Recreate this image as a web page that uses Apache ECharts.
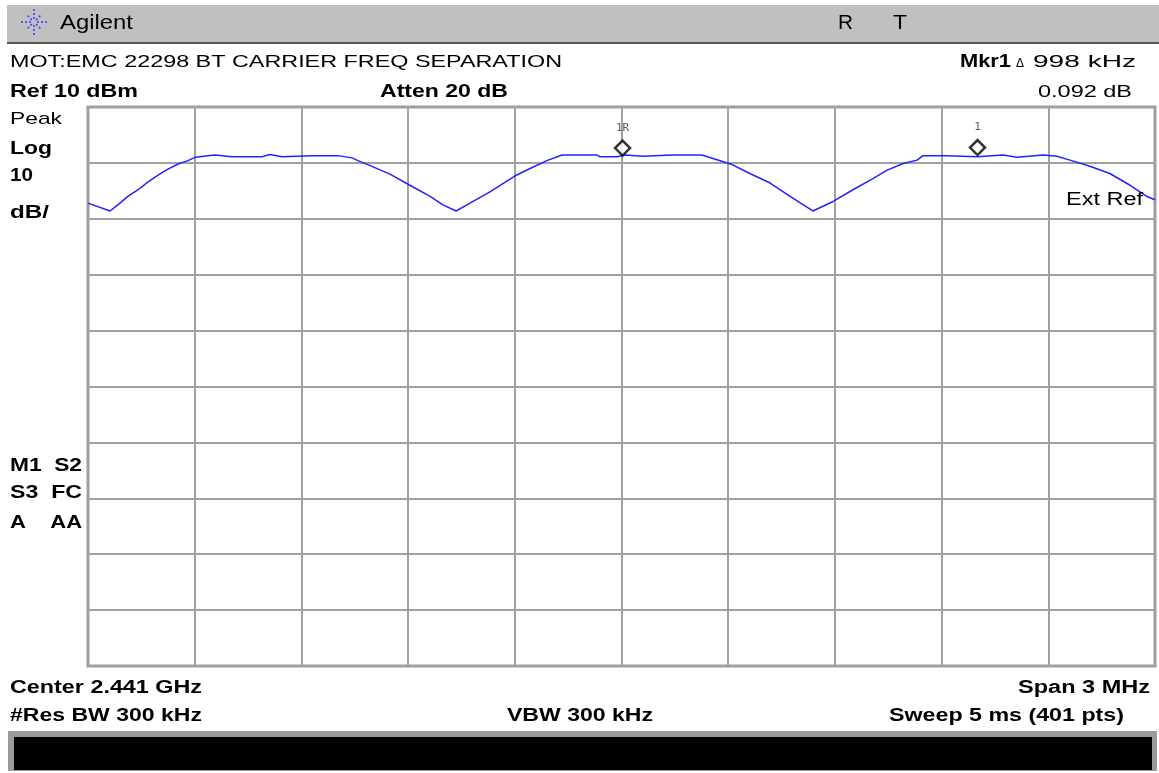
<!DOCTYPE html>
<html>
<head>
<meta charset="utf-8">
<script src="https://cdn.jsdelivr.net/npm/echarts@6/dist/echarts.min.js"></script>
<style>
html,body{margin:0;padding:0;background:#fff;}
#c{width:1159px;height:773px;}
</style>
</head>
<body>
<div id="c"></div>
<script>
// Frequency offset from centre (kHz) and level (dBm) of the trace
var freqOffsetKHz = [-1500,-1438,-1416,-1388,-1359,-1331,-1303,-1275,-1247,-1219,-1199,-1163,-1143,-1095,-1011,-988,-955,-870,-797,-758,-741,-710,-651,-595,-538,-502,-465,-426,-370,-299,-257,-210,-167,-69,-60,-13,10,60,142,226,257,311,361,418,474,538,595,651,707,747,792,831,848,915,1000,1073,1112,1185,1224,1261,1317,1373,1430,1477,1500];
var levelDBm = [-7.2,-8.6,-7.5,-6.0,-4.8,-3.4,-2.2,-1.1,-0.2,0.4,1.0,1.3,1.4,1.1,1.1,1.5,1.1,1.3,1.3,0.9,0.4,-0.4,-2.0,-4.0,-6.0,-7.5,-8.6,-7.2,-5.2,-2.3,-1.0,0.4,1.4,1.4,1.1,1.1,1.4,1.2,1.4,1.4,0.8,-0.3,-1.9,-3.6,-6.0,-8.6,-6.9,-4.8,-2.8,-1.3,-0.1,0.5,1.3,1.3,1.1,1.4,1.0,1.4,1.2,0.5,-0.6,-1.9,-4.0,-6.0,-6.6];
var markerNames = ['1R','1'];
var markerFreqKHz = [3,1001];
var markerLevelDBm = [1.4,1.5];
var xTicks = {min:-1500, max:1500, interval:300};
var yTicks = {min:-90, max:10, interval:10};

var trace = freqOffsetKHz.map(function(f,i){return [f, levelDBm[i]];});
var markers = markerFreqKHz.map(function(f,i){return {value:[f, markerLevelDBm[i]], name:markerNames[i]};});

var FONT = '"Liberation Sans", Arial, sans-serif';
var mctx = document.createElement('canvas').getContext('2d');
function txt(x,y,s,size,bold,align,targetW){
  var font = (bold?'bold ':'')+size+'px '+FONT;
  var sx = 1;
  if (targetW) { mctx.font = font; sx = targetW / mctx.measureText(s).width; }
  return {type:'text', x:x, y:y, scaleX:sx, style:{text:s, font:font, fill:'#000', textAlign:align||'left', textVerticalAlign:'middle'}, z:10};
}
// Agilent starburst logo
var logo = [];
var cx=34, cy=22;
for (var k=0;k<8;k++){
  var a = k*Math.PI/4;
  var r = (k%2===0)?13:10;
  logo.push({type:'line', shape:{x1:cx+3*Math.cos(a), y1:cy+3*Math.sin(a), x2:cx+r*Math.cos(a), y2:cy+r*Math.sin(a)}, style:{stroke:'#3a3aff', lineWidth:1.5, lineDash:[2,2]}, z:11});
}

var graphics = [
  {type:'rect', shape:{x:7,y:5,width:1152,height:37}, style:{fill:'#c0c0c0'}, z:1},
  {type:'rect', shape:{x:7,y:42,width:1152,height:2}, style:{fill:'#555'}, z:1},
  txt(60,23,'Agilent',20,false,'left',73),
  txt(838,23,'R',20,false,'left',15),
  txt(893,23,'T',20,false,'left',14),
  txt(10,62,'MOT:EMC 22298 BT CARRIER FREQ SEPARATION',17,false,'left',552),
  txt(10,92,'Ref 10 dBm',18,true,'left',128),
  txt(380,92,'Atten 20 dB',18,true,'left',128),
  txt(960,62,'Mkr1',18,true,'left',51),
  {type:'text', x:1020, y:64, style:{text:'\u0394', font:'12px '+FONT, fill:'#000', textAlign:'center', textVerticalAlign:'middle'}, z:10},
  txt(1136,62,'998 kHz',17,false,'right',103),
  txt(1132,92,'0.092 dB',17,false,'right',94),
  txt(10,119,'Peak',17,false,'left',52),
  txt(10,149,'Log',18,true,'left',42),
  txt(10,176,'10',18,true,'left',23),
  txt(10,213,'dB/',18,true,'left',39),
  txt(10,466,'M1  S2',18,true,'left',72),
  txt(10,493,'S3  FC',18,true,'left',72),
  txt(10,523,'A    AA',18,true,'left',72),
  txt(1066,200,'Ext Ref',18,false,'left',77),
  txt(10,688,'Center 2.441 GHz',18,true,'left',192),
  txt(1150,688,'Span 3 MHz',18,true,'right',132),
  txt(10,716,'#Res BW 300 kHz',18,true,'left',192),
  txt(507,716,'VBW 300 kHz',18,true,'left',146),
  txt(1124,716,'Sweep 5 ms (401 pts)',18,true,'right',235),
  {type:'rect', shape:{x:8,y:731,width:1149,height:40}, style:{fill:'#9a9a9a'}, z:1},
  {type:'rect', shape:{x:14,y:737,width:1138,height:33}, style:{fill:'#000'}, z:2}
].concat(logo);

var chart = echarts.init(document.getElementById('c'), null, {renderer:'canvas'});
chart.setOption({
  animation:false,
  backgroundColor:'#fff',
  grid:{left:88, top:107, right:4, bottom:107, show:true, borderColor:'#9a9a9a', borderWidth:3},
  xAxis:{type:'value', min:xTicks.min, max:xTicks.max, interval:xTicks.interval,
    axisLine:{show:false}, axisTick:{show:false}, axisLabel:{show:false},
    splitLine:{show:true, lineStyle:{color:'#a0a0a0', width:2}}},
  yAxis:{type:'value', min:yTicks.min, max:yTicks.max, interval:yTicks.interval,
    axisLine:{show:false}, axisTick:{show:false}, axisLabel:{show:false},
    splitLine:{show:true, lineStyle:{color:'#a0a0a0', width:2}}},
  series:[
    {type:'line', data:trace, showSymbol:false, symbol:'none', lineStyle:{color:'#2222ff', width:1.5}, z:5},
    {type:'scatter', data:markers, symbol:'diamond', symbolSize:[15,15], symbolOffset:[0,-7],
      itemStyle:{color:'#fff', borderColor:'#000', borderWidth:2.5}, z:6,
      label:{show:true, position:'top', distance:6, formatter:function(p){return p.name;}, color:'#333', fontSize:11, fontFamily:'"DejaVu Sans Mono", monospace'}}
  ],
  graphic:graphics
});
</script>
</body>
</html>
